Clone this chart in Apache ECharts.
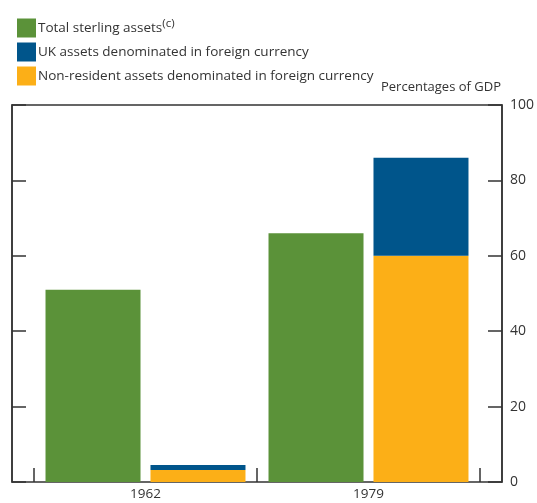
<!DOCTYPE html>
<html><head><meta charset="utf-8">
<script src="https://cdn.jsdelivr.net/npm/echarts@6/dist/echarts.min.js"></script>
<style>html,body{margin:0;padding:0;background:#fff}#c{width:537px;height:503px}</style>
</head><body><div id="c"></div>
<script>
var categories = ['1962', '1979'];
var totalSterling = [51, 66];
var ukForeign = [1.3, 26];
var nonResident = [3.2, 60];
var yTicks = [0, 20, 40, 60, 80, 100];
var names = ['Total sterling assets', 'UK assets denominated in foreign currency', 'Non-resident assets denominated in foreign currency'];
var colors = ['#5b9239', '#00558b', '#fcaf17'];
var FONT = 'Open Sans';
var chart = echarts.init(document.getElementById('c'));
chart.setOption({
  animation: false,
  textStyle: {fontFamily: FONT},
  legend: {
    orient: 'vertical', left: 12, top: 13, itemWidth: 19, itemHeight: 19, itemGap: 5,
    icon: 'rect', selectedMode: false,
    data: [names[0], names[1], names[2]],
    formatter: function (n) { return n === names[0] ? '{a|' + n + '}{s|(c)}' : '{a|' + n + '}'; },
    textStyle: {color: '#333', fontSize: 13.5, fontFamily: FONT, padding: [0, 0, 0, -3],
      rich: {a: {fontSize: 13.5, color: '#333', fontFamily: FONT}, s: {fontSize: 11.5, color: '#333', fontFamily: FONT, verticalAlign: 'top', padding: [0, 0, 8, 0]}}}
  },
  graphic: [{type: 'text', right: 36, top: 81, style: {text: 'Percentages of GDP', fontSize: 13, fontFamily: FONT, fill: '#333'}}],
  grid: [
    {left: 12, right: 35, top: 105, bottom: 21, show: true, borderColor: '#333', borderWidth: 1.5, backgroundColor: 'transparent'},
    {left: 34, right: 57, top: 105, bottom: 21}
  ],
  xAxis: [
    {gridIndex: 0, type: 'value', min: 0, max: 1, show: false},
    {gridIndex: 1, type: 'category', data: categories,
      axisLine: {show: false},
      axisTick: {show: true, inside: true, length: 14, lineStyle: {color: '#333', width: 1.5}},
      axisLabel: {color: '#333', fontSize: 13.5, margin: 5, fontFamily: FONT}}
  ],
  yAxis: [
    {gridIndex: 0, type: 'value', position: 'left', min: 0, max: 100, interval: 20,
      axisLine: {show: true, lineStyle: {color: '#333', width: 1.5}},
      axisTick: {show: true, inside: true, length: 14, lineStyle: {color: '#333', width: 1.5}},
      axisLabel: {show: false}, splitLine: {show: false}},
    {gridIndex: 0, type: 'value', position: 'right', min: 0, max: 100, interval: 20,
      axisLine: {show: true, lineStyle: {color: '#333', width: 1.5}},
      axisTick: {show: true, inside: true, length: 14, lineStyle: {color: '#333', width: 1.5}},
      axisLabel: {show: true, color: '#333', fontSize: 14, margin: 8, fontFamily: FONT,
        formatter: function (v) { return yTicks.indexOf(v) >= 0 ? String(v) : ''; }},
      splitLine: {show: false}},
    {gridIndex: 1, type: 'value', min: 0, max: 100, show: false}
  ],
  series: [
    {name: names[0], type: 'bar', xAxisIndex: 1, yAxisIndex: 2, data: totalSterling, barWidth: 95, barGap: '10.5%', itemStyle: {color: colors[0]}},
    {name: names[2], type: 'bar', xAxisIndex: 1, yAxisIndex: 2, stack: 'fx', data: nonResident, barWidth: 95, barGap: '10.5%', itemStyle: {color: colors[2]}},
    {name: names[1], type: 'bar', xAxisIndex: 1, yAxisIndex: 2, stack: 'fx', data: ukForeign, barWidth: 95, barGap: '10.5%', itemStyle: {color: colors[1]}}
  ]
});
</script></body></html>
